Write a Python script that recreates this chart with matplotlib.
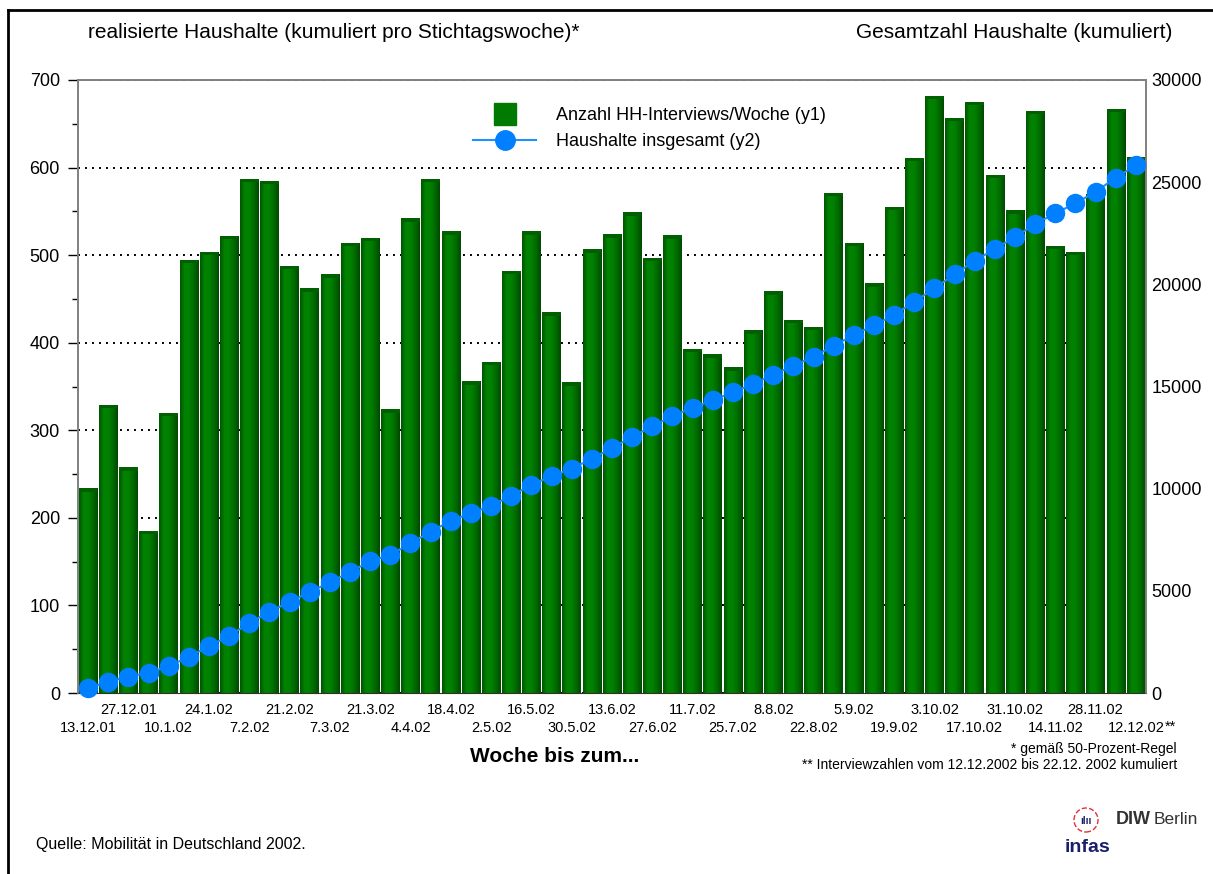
import numpy as np
import matplotlib.pyplot as plt
from matplotlib.colors import LinearSegmentedColormap
from matplotlib.lines import Line2D
from matplotlib.patches import Ellipse

plt.rcParams['font.family'] = ['Liberation Sans', 'DejaVu Sans']

# week labels, one every second week (bars 0, 2, 4, ...)
week_labels = ["13.12.01", "27.12.01", "10.1.02", "24.1.02", "7.2.02", "21.2.02",
               "7.3.02", "21.3.02", "4.4.02", "18.4.02", "2.5.02", "16.5.02",
               "30.5.02", "13.6.02", "27.6.02", "11.7.02", "25.7.02", "8.8.02",
               "22.8.02", "5.9.02", "19.9.02", "3.10.02", "17.10.02", "31.10.02",
               "14.11.02", "28.11.02", "12.12.02"]

# interviews per week (left axis)
interviews = [234, 329, 258, 185, 320, 495, 504, 522, 587, 585,
              488, 462, 478, 514, 520, 324, 542, 587, 527, 356,
              378, 482, 527, 435, 355, 507, 524, 549, 497, 523,
              393, 387, 372, 414, 459, 426, 418, 571, 514, 468,
              555, 611, 682, 657, 675, 592, 551, 665, 511, 504,
              570, 667, 612]

# households in total (right axis)
households_total = [230, 553, 798, 994, 1305, 1777, 2286, 2806, 3410, 3979,
                    4454, 4943, 5418, 5922, 6445, 6754, 7326, 7894, 8433, 8794,
                    9167, 9656, 10180, 10620, 10978, 11467, 11990, 12543, 13051, 13556,
                    13962, 14339, 14716, 15123, 15578, 16018, 16459, 16997, 17521, 18000,
                    18499, 19150, 19806, 20490, 21157, 21730, 22317, 22953, 23477, 23966,
                    24534, 25219, 25826]

W, H = 1213, 874
fig = plt.figure(figsize=(W / 100, H / 100), dpi=100)
ax = fig.add_axes([78 / W, 1 - 693 / H, (1146 - 78) / W, (693 - 80) / H])

x = np.arange(len(interviews))
bars = ax.bar(x, interviews, width=0.92, color='#007800', zorder=2)

# cylinder look: horizontal gradient clipped to every bar
cyl = LinearSegmentedColormap.from_list('cyl', ['#005400', '#008400', '#008000', '#006a00', '#004800'])
grad = np.linspace(0, 1, 64).reshape(1, -1)
for b in bars:
    x0, w, h = b.get_x(), b.get_width(), b.get_height()
    im = ax.imshow(grad, cmap=cyl, extent=[x0, x0 + w, 0, h], aspect='auto',
                   interpolation='bicubic', zorder=2.1)
    im.set_clip_path(b)
# darker top cap
ax.bar(x, 4, bottom=np.array(interviews) - 4, width=0.92, color='#005f00', zorder=2.2)

ax.set_xlim(-0.5, len(x) - 0.5)
ax.set_ylim(0, 700)
ax.set_yticks(range(0, 701, 100))
ax.set_yticks(range(50, 700, 100), minor=True)
ax.tick_params(axis='y', which='major', length=7, width=1, pad=6, labelsize=13, colors='black')
ax.tick_params(axis='y', which='minor', length=4, width=1)

label_pos = x[::2]
ax.set_xticks(label_pos[::2])
ax.set_xticklabels(week_labels[::2])
ax.set_xticks(label_pos[1::2], minor=True)
ax.set_xticklabels(week_labels[1::2], minor=True)
ax.tick_params(axis='x', which='major', length=0, pad=20, labelsize=10.5)
ax.tick_params(axis='x', which='minor', length=0, pad=7, labelsize=10.5)

ax.set_axisbelow(True)
ax.yaxis.grid(True, which='major', color='black', linestyle=(0, (1, 2.6)), linewidth=1.4)
for s in ['left', 'top', 'right']:
    ax.spines[s].set_color('#808080')
    ax.spines[s].set_linewidth(1.2)
ax.spines['bottom'].set_color('#303030')

ax2 = ax.twinx()
ax2.plot(x, households_total, color='#1E90FF', lw=1.5, marker='o', ms=13,
         mfc='#0080FF', mec='#0080FF', zorder=3, clip_on=False)
ax2.set_ylim(0, 30000)
ax2.set_yticks(range(0, 30001, 5000))
ax2.tick_params(axis='y', length=0, pad=4, labelsize=13)
for s in ['left', 'top', 'right']:
    ax2.spines[s].set_color('#808080')
    ax2.spines[s].set_linewidth(1.2)
ax2.spines['bottom'].set_visible(False)

ax.annotate('**', xy=(x[-1], 0), xycoords=('data', 'axes fraction'),
            xytext=(29, -34), textcoords='offset pixels', ha='left', va='center', fontsize=10.5)

handles = [Line2D([], [], marker='s', ms=16.5, color='#007a00', ls='none'),
           Line2D([], [], color='#1E90FF', lw=1.5, marker='o', ms=14, mfc='#0080FF', mec='#0080FF')]
ax2.legend(handles, ['Anzahl HH-Interviews/Woche (y1)', 'Haushalte insgesamt (y2)'],
           loc='upper left', bbox_to_anchor=(473 / W, 1 - 107 / H), bbox_transform=fig.transFigure,
           frameon=False, fontsize=13, handlelength=3.5, handletextpad=1.1,
           labelspacing=0.52, borderpad=0, borderaxespad=0)

fig.text(88 / W, 1 - 33 / H, 'realisierte Haushalte (kumuliert pro Stichtagswoche)*',
         fontsize=15, ha='left', va='center')
fig.text(1172 / W, 1 - 33 / H, 'Gesamtzahl Haushalte (kumuliert)',
         fontsize=15, ha='right', va='center')
fig.text(555 / W, 1 - 757 / H, 'Woche bis zum...', fontsize=15, weight='bold', ha='center', va='center')
fig.text(1177 / W, 1 - 749 / H, '* gemäß 50-Prozent-Regel', fontsize=10, ha='right', va='center')
fig.text(1177 / W, 1 - 765 / H, '** Interviewzahlen vom 12.12.2002 bis 22.12. 2002 kumuliert',
         fontsize=10, ha='right', va='center')
fig.text(36 / W, 1 - 845 / H, 'Quelle: Mobilität in Deutschland 2002.', fontsize=11.5, ha='left', va='center')

# logos
fig.text(1116 / W, 1 - 819 / H, 'DIW', fontsize=13, weight='bold', color='#333333', va='center')
fig.text(1154 / W, 1 - 819 / H, 'Berlin', fontsize=12.5, color='#333333', va='center')
fig.add_artist(Ellipse((1086 / W, 1 - 820 / H), 24 / W, 24 / H, transform=fig.transFigure,
                       fill=False, ec='#e03040', ls='--', lw=1))
fig.text(1086 / W, 1 - 821 / H, 'ılıı', fontsize=7, weight='bold', color='#1b1f6b', ha='center', va='center')
fig.text(1087 / W, 1 - 847 / H, 'infas', fontsize=14, weight='bold', color='#1b1f6b', ha='center', va='center')

# outer frame (left and top)
fig.add_artist(Line2D([8 / W, 8 / W], [0, 1 - 10 / H], color='black', lw=2, transform=fig.transFigure))
fig.add_artist(Line2D([8 / W, 1], [1 - 10 / H, 1 - 10 / H], color='black', lw=2, transform=fig.transFigure))

fig.savefig('out.png', dpi=100)
